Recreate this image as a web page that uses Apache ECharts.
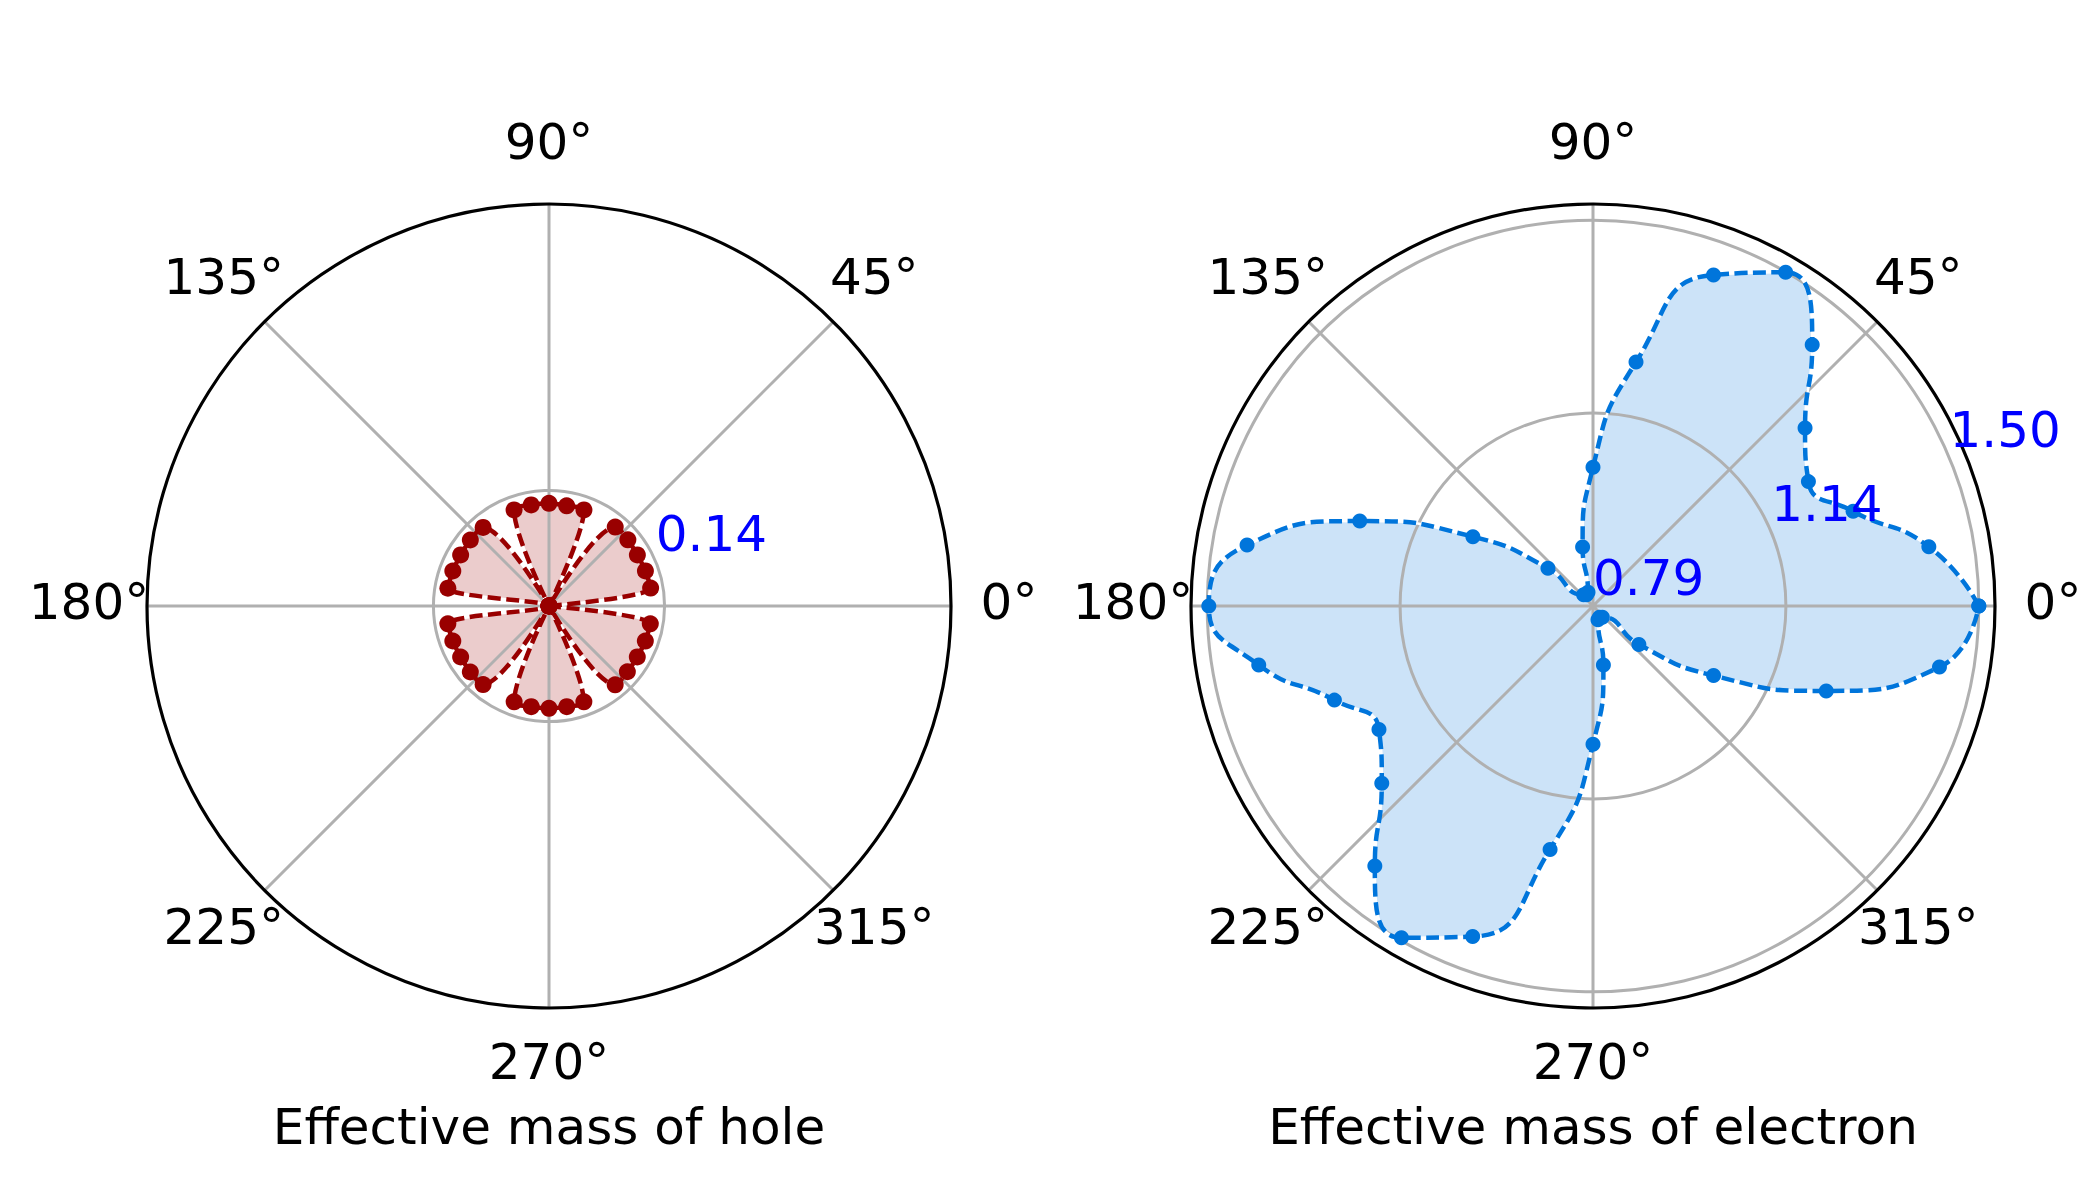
<!DOCTYPE html>
<html>
<head>
<meta charset="utf-8">
<title>Effective mass</title>
<script src="https://cdn.jsdelivr.net/npm/echarts@6/dist/echarts.min.js"></script>
<style>
    html, body { margin: 0; padding: 0; background: #fff; }
    #chart { width: 2100px; height: 1200px; }
</style>
</head>
<body>
<div id="chart"></div>
<script>
// direction of each sample in degrees (360 closes the loop)
var angles = [0, 10, 20, 30, 40, 50, 60, 70, 80, 90, 100, 110, 120, 130, 140, 150, 160, 170,
    180, 190, 200, 210, 220, 230, 240, 250, 260, 270, 280, 290, 300, 310, 320, 330, 340, 350, 360];

// effective mass of hole
var holeMass = [0, 0.1250, 0.1243, 0.1236, 0.1247, 0.1248, 0, 0.1238, 0.1232, 0.1244, 0.1243, 0.1238,
    0, 0.1242, 0.1244, 0.1236, 0.1240, 0.1244, 0, 0.1244, 0.1240, 0.1236, 0.1244, 0.1242,
    0, 0.1235, 0.1238, 0.1240, 0.1238, 0.1235, 0, 0.1247, 0.1239, 0.1235, 0.1242, 0.1246, 0];

// effective mass of electron
var electronMass = [1.500, 1.417, 1.298, 1.246, 1.298, 1.417, 1.499, 1.438, 1.244, 1.042, 0.896, 0.812,
    0.809, 0.812, 0.894, 1.042, 1.245, 1.436, 1.497, 1.414, 1.295, 1.243, 1.296, 1.414,
    1.495, 1.437, 1.243, 1.041, 0.896, 0.812, 0.809, 0.812, 0.896, 1.043, 1.245, 1.437, 1.500];

var angleTicks = [0, 45, 90, 135, 180, 225, 270, 315];
var holeRTicks = [0.14];
var electronRTicks = [0.785, 1.1425, 1.5];
var holeRange = [0, 0.487];
var electronRange = [0.785, 1.53];
var titles = ['Effective mass of hole', 'Effective mass of electron'];

var FONT = '"DejaVu Sans", "Liberation Sans", sans-serif';
var chart = echarts.init(document.getElementById('chart'), null, {renderer: 'svg'});

function toPairs(vals) {
    return vals.map(function (v, i) {
        return [v, angles[i]];
    });
}

function angleAxisFor(idx) {
    return {
        polarIndex: idx,
        type: 'value',
        min: 0,
        max: 360,
        interval: 45,
        startAngle: 0,
        clockwise: false,
        z: 1,
        axisLine: {lineStyle: {color: '#000', width: 3.2}},
        axisTick: {show: false},
        axisLabel: {show: false},
        splitLine: {show: true, lineStyle: {color: '#b0b0b0', width: 3}}
    };
}

function radiusAxisFor(idx, range, ticks) {
    return {
        polarIndex: idx,
        type: 'value',
        min: range[0],
        max: range[1],
        z: 1,
        axisLine: {show: false},
        axisTick: {show: false, customValues: ticks},
        axisLabel: {show: false},
        splitLine: {show: true, lineStyle: {color: '#b0b0b0', width: 3}}
    };
}

function seriesFor(idx, vals, color, fill, smooth, size) {
    var data = toPairs(vals);
    return [
        {   // filled area
            type: 'line', coordinateSystem: 'polar', polarIndex: idx,
            data: data, smooth: smooth, showSymbol: false, silent: true, z: 0,
            lineStyle: {width: 0, opacity: 0},
            areaStyle: {color: fill, opacity: 1}
        },
        {   // white line under the dashes
            type: 'line', coordinateSystem: 'polar', polarIndex: idx,
            data: data, smooth: smooth, showSymbol: false, silent: true, z: 2,
            lineStyle: {color: '#fff', width: 2.5}
        },
        {
            type: 'line', coordinateSystem: 'polar', polarIndex: idx,
            data: data, smooth: smooth, z: 3,
            symbol: 'circle', symbolSize: size, showSymbol: true,
            itemStyle: {color: color},
            lineStyle: {color: color, width: 4.5, type: [13, 5.5]}
        }
    ];
}

var option = {
    animation: false,
    backgroundColor: '#fff',
    textStyle: {fontFamily: FONT},
    polar: [
        {center: [549, 606], radius: 402},
        {center: [1593, 606], radius: 402}
    ],
    angleAxis: [angleAxisFor(0), angleAxisFor(1)],
    radiusAxis: [
        radiusAxisFor(0, holeRange, holeRTicks),
        radiusAxisFor(1, electronRange, electronRTicks)
    ],
    series: [].concat(
        seriesFor(0, holeMass, '#990000', 'rgba(153,0,0,0.2)', 0.3, 17),
        seriesFor(1, electronMass, '#0075db', 'rgba(0,117,219,0.2)', 0.55, 15)
    )
};
chart.setOption(option);

// texts: angle labels, blue radial labels, titles
var texts = [];
function txt(x, y, str, color, align) {
    texts.push({
        type: 'text', x: x, y: y, z: 10,
        style: {text: str, fill: color, font: '50px ' + FONT, align: align, verticalAlign: 'middle'}
    });
}

[holeRange, electronRange].forEach(function (rng, i) {
    var rLabel = rng[0] + (rng[1] - rng[0]) * 460 / 402;
    angleTicks.forEach(function (a) {
        var p = chart.convertToPixel({polarIndex: i}, [rLabel, a]);
        txt(p[0], p[1] - 4, a + '°', '#000', 'center');
    });
    var rt = i === 0 ? holeRTicks : electronRTicks;
    rt.forEach(function (v) {
        var p = chart.convertToPixel({polarIndex: i}, [v, 22.5]);
        txt(p[0], p[1] - 28, v.toFixed(2), '#0000ff', 'left');
    });
    var c = chart.convertToPixel({polarIndex: i}, [rng[0], 0]);
    txt(c[0], c[1] + 521, titles[i], '#000', 'center');
});

chart.setOption({graphic: texts});
</script>
</body>
</html>
